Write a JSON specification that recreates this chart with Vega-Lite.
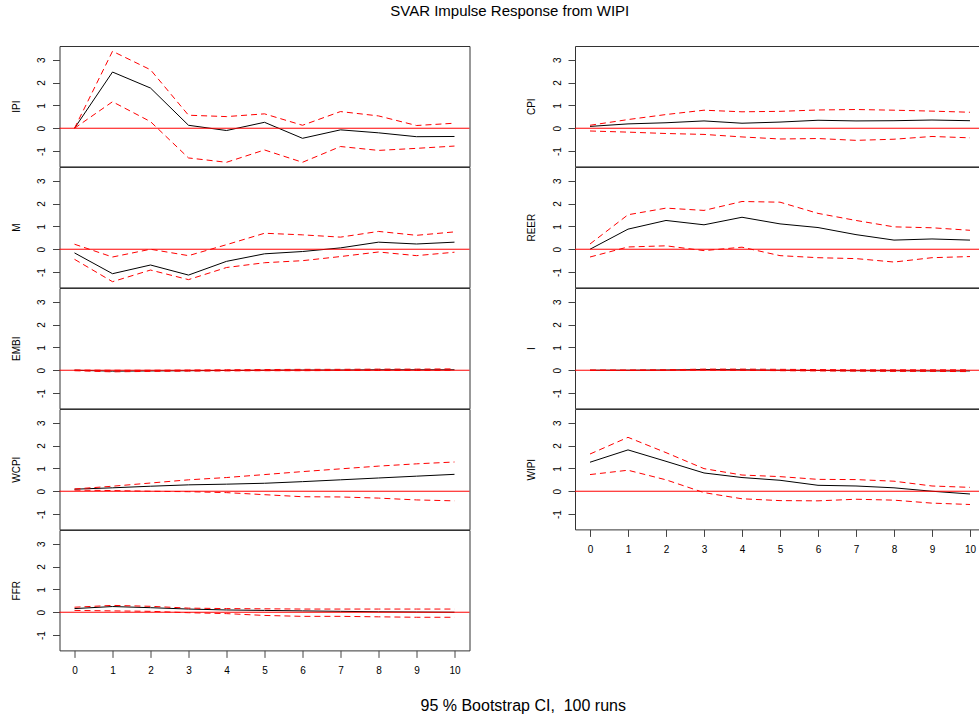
{
  "$schema": "https://vega.github.io/schema/vega-lite/v6.json",
  "padding": {"left": 9.5, "top": 3, "right": 0, "bottom": 4},
  "title": {"text": "95 % Bootstrap CI, \u00a0100 runs", "orient": "bottom", "anchor": "middle", "fontSize": 16, "fontWeight": "normal", "font": "Liberation Sans", "color": "#000", "offset": 22, "dx": 28},
  "config": {
    "font": "Liberation Sans",
    "view": {"stroke": "#333", "strokeWidth": 1},
    "axis": {"grid": false, "domain": false, "tickSize": 7, "tickColor": "#444", "labelFontSize": 10, "labelColor": "#000", "titleFontSize": 10, "titleFontWeight": "normal", "titleColor": "#000", "labelFont": "Liberation Sans", "titleFont": "Liberation Sans", "labelOverlap": false},
    "axisY": {"labelAngle": 270, "labelPadding": 6, "titlePadding": 15.5},
    "axisX": {"labelAngle": 0, "labelPadding": 8},
    "line": {"strokeWidth": 1}
  },
  "datasets": {
    "irf": [
      {"v":"IPI","h":0,"irf":0,"lo":0,"up":0},
      {"v":"IPI","h":1,"irf":2.46,"lo":1.16,"up":3.37},
      {"v":"IPI","h":2,"irf":1.76,"lo":0.29,"up":2.56},
      {"v":"IPI","h":3,"irf":0.13,"lo":-1.30,"up":0.57},
      {"v":"IPI","h":4,"irf":-0.10,"lo":-1.49,"up":0.51},
      {"v":"IPI","h":5,"irf":0.26,"lo":-0.95,"up":0.63},
      {"v":"IPI","h":6,"irf":-0.44,"lo":-1.49,"up":0.13},
      {"v":"IPI","h":7,"irf":-0.07,"lo":-0.80,"up":0.73},
      {"v":"IPI","h":8,"irf":-0.20,"lo":-0.97,"up":0.54},
      {"v":"IPI","h":9,"irf":-0.37,"lo":-0.88,"up":0.12},
      {"v":"IPI","h":10,"irf":-0.36,"lo":-0.78,"up":0.22},
      {"v":"M","h":0,"irf":-0.16,"lo":-0.44,"up":0.22},
      {"v":"M","h":1,"irf":-1.07,"lo":-1.42,"up":-0.34},
      {"v":"M","h":2,"irf":-0.69,"lo":-0.91,"up":0.00},
      {"v":"M","h":3,"irf":-1.13,"lo":-1.33,"up":-0.28},
      {"v":"M","h":4,"irf":-0.53,"lo":-0.80,"up":0.20},
      {"v":"M","h":5,"irf":-0.20,"lo":-0.59,"up":0.70},
      {"v":"M","h":6,"irf":-0.10,"lo":-0.50,"up":0.63},
      {"v":"M","h":7,"irf":0.06,"lo":-0.32,"up":0.53},
      {"v":"M","h":8,"irf":0.31,"lo":-0.12,"up":0.78},
      {"v":"M","h":9,"irf":0.23,"lo":-0.28,"up":0.61},
      {"v":"M","h":10,"irf":0.31,"lo":-0.13,"up":0.76},
      {"v":"EMBI","h":0,"irf":0.00,"lo":-0.02,"up":0.01},
      {"v":"EMBI","h":1,"irf":-0.04,"lo":-0.07,"up":0.00},
      {"v":"EMBI","h":2,"irf":-0.03,"lo":-0.05,"up":0.00},
      {"v":"EMBI","h":3,"irf":-0.02,"lo":-0.04,"up":0.01},
      {"v":"EMBI","h":4,"irf":-0.01,"lo":-0.03,"up":0.02},
      {"v":"EMBI","h":5,"irf":0.00,"lo":-0.02,"up":0.03},
      {"v":"EMBI","h":6,"irf":0.01,"lo":-0.02,"up":0.04},
      {"v":"EMBI","h":7,"irf":0.01,"lo":-0.01,"up":0.04},
      {"v":"EMBI","h":8,"irf":0.02,"lo":-0.01,"up":0.05},
      {"v":"EMBI","h":9,"irf":0.02,"lo":-0.01,"up":0.05},
      {"v":"EMBI","h":10,"irf":0.02,"lo":0.00,"up":0.06},
      {"v":"WCPI","h":0,"irf":0.09,"lo":0.05,"up":0.10},
      {"v":"WCPI","h":1,"irf":0.15,"lo":0.03,"up":0.22},
      {"v":"WCPI","h":2,"irf":0.22,"lo":0.00,"up":0.36},
      {"v":"WCPI","h":3,"irf":0.28,"lo":-0.02,"up":0.50},
      {"v":"WCPI","h":4,"irf":0.31,"lo":-0.06,"up":0.60},
      {"v":"WCPI","h":5,"irf":0.35,"lo":-0.15,"up":0.73},
      {"v":"WCPI","h":6,"irf":0.42,"lo":-0.24,"up":0.86},
      {"v":"WCPI","h":7,"irf":0.50,"lo":-0.25,"up":0.98},
      {"v":"WCPI","h":8,"irf":0.58,"lo":-0.30,"up":1.10},
      {"v":"WCPI","h":9,"irf":0.66,"lo":-0.38,"up":1.20},
      {"v":"WCPI","h":10,"irf":0.74,"lo":-0.42,"up":1.28},
      {"v":"FFR","h":0,"irf":0.16,"lo":0.08,"up":0.22},
      {"v":"FFR","h":1,"irf":0.25,"lo":0.06,"up":0.30},
      {"v":"FFR","h":2,"irf":0.20,"lo":0.04,"up":0.26},
      {"v":"FFR","h":3,"irf":0.14,"lo":-0.02,"up":0.18},
      {"v":"FFR","h":4,"irf":0.10,"lo":-0.06,"up":0.16},
      {"v":"FFR","h":5,"irf":0.08,"lo":-0.14,"up":0.15},
      {"v":"FFR","h":6,"irf":0.06,"lo":-0.18,"up":0.14},
      {"v":"FFR","h":7,"irf":0.04,"lo":-0.18,"up":0.14},
      {"v":"FFR","h":8,"irf":0.02,"lo":-0.20,"up":0.14},
      {"v":"FFR","h":9,"irf":0.01,"lo":-0.22,"up":0.14},
      {"v":"FFR","h":10,"irf":0.00,"lo":-0.22,"up":0.14},
      {"v":"CPI","h":0,"irf":0.08,"lo":-0.12,"up":0.13},
      {"v":"CPI","h":1,"irf":0.19,"lo":-0.17,"up":0.38},
      {"v":"CPI","h":2,"irf":0.24,"lo":-0.23,"up":0.60},
      {"v":"CPI","h":3,"irf":0.32,"lo":-0.27,"up":0.79},
      {"v":"CPI","h":4,"irf":0.22,"lo":-0.38,"up":0.72},
      {"v":"CPI","h":5,"irf":0.27,"lo":-0.47,"up":0.74},
      {"v":"CPI","h":6,"irf":0.35,"lo":-0.45,"up":0.80},
      {"v":"CPI","h":7,"irf":0.32,"lo":-0.53,"up":0.82},
      {"v":"CPI","h":8,"irf":0.33,"lo":-0.48,"up":0.79},
      {"v":"CPI","h":9,"irf":0.36,"lo":-0.36,"up":0.75},
      {"v":"CPI","h":10,"irf":0.33,"lo":-0.42,"up":0.70},
      {"v":"REER","h":0,"irf":0.00,"lo":-0.34,"up":0.23},
      {"v":"REER","h":1,"irf":0.88,"lo":0.10,"up":1.51},
      {"v":"REER","h":2,"irf":1.26,"lo":0.15,"up":1.80},
      {"v":"REER","h":3,"irf":1.07,"lo":-0.06,"up":1.70},
      {"v":"REER","h":4,"irf":1.40,"lo":0.09,"up":2.09},
      {"v":"REER","h":5,"irf":1.11,"lo":-0.28,"up":2.06},
      {"v":"REER","h":6,"irf":0.95,"lo":-0.37,"up":1.57},
      {"v":"REER","h":7,"irf":0.64,"lo":-0.41,"up":1.26},
      {"v":"REER","h":8,"irf":0.40,"lo":-0.56,"up":0.98},
      {"v":"REER","h":9,"irf":0.45,"lo":-0.37,"up":0.94},
      {"v":"REER","h":10,"irf":0.40,"lo":-0.32,"up":0.83},
      {"v":"I","h":0,"irf":0.00,"lo":-0.01,"up":0.01},
      {"v":"I","h":1,"irf":0.00,"lo":-0.01,"up":0.01},
      {"v":"I","h":2,"irf":0.01,"lo":0.00,"up":0.02},
      {"v":"I","h":3,"irf":0.03,"lo":0.01,"up":0.05},
      {"v":"I","h":4,"irf":0.02,"lo":0.00,"up":0.05},
      {"v":"I","h":5,"irf":0.00,"lo":-0.02,"up":0.04},
      {"v":"I","h":6,"irf":-0.01,"lo":-0.03,"up":0.03},
      {"v":"I","h":7,"irf":-0.02,"lo":-0.04,"up":0.02},
      {"v":"I","h":8,"irf":-0.02,"lo":-0.05,"up":0.02},
      {"v":"I","h":9,"irf":-0.03,"lo":-0.05,"up":0.02},
      {"v":"I","h":10,"irf":-0.03,"lo":-0.06,"up":0.02},
      {"v":"WIPI","h":0,"irf":1.27,"lo":0.73,"up":1.63},
      {"v":"WIPI","h":1,"irf":1.81,"lo":0.92,"up":2.36},
      {"v":"WIPI","h":2,"irf":1.31,"lo":0.50,"up":1.69},
      {"v":"WIPI","h":3,"irf":0.80,"lo":-0.06,"up":0.99},
      {"v":"WIPI","h":4,"irf":0.60,"lo":-0.33,"up":0.71},
      {"v":"WIPI","h":5,"irf":0.48,"lo":-0.41,"up":0.64},
      {"v":"WIPI","h":6,"irf":0.26,"lo":-0.42,"up":0.52},
      {"v":"WIPI","h":7,"irf":0.23,"lo":-0.35,"up":0.51},
      {"v":"WIPI","h":8,"irf":0.15,"lo":-0.39,"up":0.44},
      {"v":"WIPI","h":9,"irf":0.00,"lo":-0.52,"up":0.23},
      {"v":"WIPI","h":10,"irf":-0.12,"lo":-0.58,"up":0.17}
    ],
    "zero": [{"z": 0}]
  },
  "vconcat": [
    {
      "title": {"text": "SVAR Impulse Response from WIPI", "anchor": "middle", "fontSize": 15, "fontWeight": "normal", "font": "Liberation Sans", "color": "#000", "offset": 27, "dx": 14.5},
      "spacing": 54.5,
      "hconcat": [
        {
          "bounds": "flush",
          "spacing": 0,
          "vconcat": [
            {"width": 410, "height": 120.4, "layer": [
              {"data": {"name": "irf"}, "transform": [{"filter": "datum.v === 'IPI'"}], "mark": {"type": "line", "color": "#000"}, "encoding": {"x": {"field": "h", "type": "quantitative", "scale": {"domain": [-0.395, 10.395], "nice": false, "zero": false}, "axis": null}, "y": {"field": "irf", "type": "quantitative", "scale": {"domain": [-1.67, 3.6], "nice": false, "zero": false}, "axis": {"title": "IPI", "values": [-1, 0, 1, 2, 3], "tickCount": 10, "labelExpr": "'' + datum.value"}}}},
              {"data": {"name": "zero"}, "mark": {"type": "rule", "color": "#FF0000"}, "encoding": {"y": {"field": "z", "type": "quantitative"}}},
              {"data": {"name": "irf"}, "transform": [{"filter": "datum.v === 'IPI'"}], "mark": {"type": "line", "color": "#FF0000", "strokeDash": [6, 4]}, "encoding": {"x": {"field": "h", "type": "quantitative"}, "y": {"field": "up", "type": "quantitative"}}},
              {"data": {"name": "irf"}, "transform": [{"filter": "datum.v === 'IPI'"}], "mark": {"type": "line", "color": "#FF0000", "strokeDash": [6, 4]}, "encoding": {"x": {"field": "h", "type": "quantitative"}, "y": {"field": "lo", "type": "quantitative"}}}
            ]},
            {"width": 410, "height": 120.4, "layer": [
              {"data": {"name": "irf"}, "transform": [{"filter": "datum.v === 'M'"}], "mark": {"type": "line", "color": "#000"}, "encoding": {"x": {"field": "h", "type": "quantitative", "scale": {"domain": [-0.395, 10.395], "nice": false, "zero": false}, "axis": null}, "y": {"field": "irf", "type": "quantitative", "scale": {"domain": [-1.67, 3.6], "nice": false, "zero": false}, "axis": {"title": "M", "values": [-1, 0, 1, 2, 3], "tickCount": 10, "labelExpr": "'' + datum.value"}}}},
              {"data": {"name": "zero"}, "mark": {"type": "rule", "color": "#FF0000"}, "encoding": {"y": {"field": "z", "type": "quantitative"}}},
              {"data": {"name": "irf"}, "transform": [{"filter": "datum.v === 'M'"}], "mark": {"type": "line", "color": "#FF0000", "strokeDash": [6, 4]}, "encoding": {"x": {"field": "h", "type": "quantitative"}, "y": {"field": "up", "type": "quantitative"}}},
              {"data": {"name": "irf"}, "transform": [{"filter": "datum.v === 'M'"}], "mark": {"type": "line", "color": "#FF0000", "strokeDash": [6, 4]}, "encoding": {"x": {"field": "h", "type": "quantitative"}, "y": {"field": "lo", "type": "quantitative"}}}
            ]},
            {"width": 410, "height": 120.4, "layer": [
              {"data": {"name": "irf"}, "transform": [{"filter": "datum.v === 'EMBI'"}], "mark": {"type": "line", "color": "#000"}, "encoding": {"x": {"field": "h", "type": "quantitative", "scale": {"domain": [-0.395, 10.395], "nice": false, "zero": false}, "axis": null}, "y": {"field": "irf", "type": "quantitative", "scale": {"domain": [-1.67, 3.6], "nice": false, "zero": false}, "axis": {"title": "EMBI", "values": [-1, 0, 1, 2, 3], "tickCount": 10, "labelExpr": "'' + datum.value"}}}},
              {"data": {"name": "zero"}, "mark": {"type": "rule", "color": "#FF0000"}, "encoding": {"y": {"field": "z", "type": "quantitative"}}},
              {"data": {"name": "irf"}, "transform": [{"filter": "datum.v === 'EMBI'"}], "mark": {"type": "line", "color": "#FF0000", "strokeDash": [6, 4]}, "encoding": {"x": {"field": "h", "type": "quantitative"}, "y": {"field": "up", "type": "quantitative"}}},
              {"data": {"name": "irf"}, "transform": [{"filter": "datum.v === 'EMBI'"}], "mark": {"type": "line", "color": "#FF0000", "strokeDash": [6, 4]}, "encoding": {"x": {"field": "h", "type": "quantitative"}, "y": {"field": "lo", "type": "quantitative"}}}
            ]},
            {"width": 410, "height": 120.4, "layer": [
              {"data": {"name": "irf"}, "transform": [{"filter": "datum.v === 'WCPI'"}], "mark": {"type": "line", "color": "#000"}, "encoding": {"x": {"field": "h", "type": "quantitative", "scale": {"domain": [-0.395, 10.395], "nice": false, "zero": false}, "axis": null}, "y": {"field": "irf", "type": "quantitative", "scale": {"domain": [-1.67, 3.6], "nice": false, "zero": false}, "axis": {"title": "WCPI", "values": [-1, 0, 1, 2, 3], "tickCount": 10, "labelExpr": "'' + datum.value"}}}},
              {"data": {"name": "zero"}, "mark": {"type": "rule", "color": "#FF0000"}, "encoding": {"y": {"field": "z", "type": "quantitative"}}},
              {"data": {"name": "irf"}, "transform": [{"filter": "datum.v === 'WCPI'"}], "mark": {"type": "line", "color": "#FF0000", "strokeDash": [6, 4]}, "encoding": {"x": {"field": "h", "type": "quantitative"}, "y": {"field": "up", "type": "quantitative"}}},
              {"data": {"name": "irf"}, "transform": [{"filter": "datum.v === 'WCPI'"}], "mark": {"type": "line", "color": "#FF0000", "strokeDash": [6, 4]}, "encoding": {"x": {"field": "h", "type": "quantitative"}, "y": {"field": "lo", "type": "quantitative"}}}
            ]},
            {"width": 410, "height": 120.4, "layer": [
              {"data": {"name": "irf"}, "transform": [{"filter": "datum.v === 'FFR'"}], "mark": {"type": "line", "color": "#000"}, "encoding": {"x": {"field": "h", "type": "quantitative", "scale": {"domain": [-0.395, 10.395], "nice": false, "zero": false}, "axis": {"title": null, "values": [0, 1, 2, 3, 4, 5, 6, 7, 8, 9, 10], "tickCount": 20, "labelExpr": "'' + datum.value"}}, "y": {"field": "irf", "type": "quantitative", "scale": {"domain": [-1.67, 3.6], "nice": false, "zero": false}, "axis": {"title": "FFR", "values": [-1, 0, 1, 2, 3], "tickCount": 10, "labelExpr": "'' + datum.value"}}}},
              {"data": {"name": "zero"}, "mark": {"type": "rule", "color": "#FF0000"}, "encoding": {"y": {"field": "z", "type": "quantitative"}}},
              {"data": {"name": "irf"}, "transform": [{"filter": "datum.v === 'FFR'"}], "mark": {"type": "line", "color": "#FF0000", "strokeDash": [6, 4]}, "encoding": {"x": {"field": "h", "type": "quantitative"}, "y": {"field": "up", "type": "quantitative"}}},
              {"data": {"name": "irf"}, "transform": [{"filter": "datum.v === 'FFR'"}], "mark": {"type": "line", "color": "#FF0000", "strokeDash": [6, 4]}, "encoding": {"x": {"field": "h", "type": "quantitative"}, "y": {"field": "lo", "type": "quantitative"}}}
            ]}
          ]
        },
        {
          "bounds": "flush",
          "spacing": 0,
          "vconcat": [
            {"width": 404, "height": 120.4, "layer": [
              {"data": {"name": "irf"}, "transform": [{"filter": "datum.v === 'CPI'"}], "mark": {"type": "line", "color": "#000"}, "encoding": {"x": {"field": "h", "type": "quantitative", "scale": {"domain": [-0.395, 10.237], "nice": false, "zero": false}, "axis": null}, "y": {"field": "irf", "type": "quantitative", "scale": {"domain": [-1.67, 3.6], "nice": false, "zero": false}, "axis": {"title": "CPI", "values": [-1, 0, 1, 2, 3], "tickCount": 10, "labelExpr": "'' + datum.value"}}}},
              {"data": {"name": "zero"}, "mark": {"type": "rule", "color": "#FF0000"}, "encoding": {"y": {"field": "z", "type": "quantitative"}}},
              {"data": {"name": "irf"}, "transform": [{"filter": "datum.v === 'CPI'"}], "mark": {"type": "line", "color": "#FF0000", "strokeDash": [6, 4]}, "encoding": {"x": {"field": "h", "type": "quantitative"}, "y": {"field": "up", "type": "quantitative"}}},
              {"data": {"name": "irf"}, "transform": [{"filter": "datum.v === 'CPI'"}], "mark": {"type": "line", "color": "#FF0000", "strokeDash": [6, 4]}, "encoding": {"x": {"field": "h", "type": "quantitative"}, "y": {"field": "lo", "type": "quantitative"}}}
            ]},
            {"width": 404, "height": 120.4, "layer": [
              {"data": {"name": "irf"}, "transform": [{"filter": "datum.v === 'REER'"}], "mark": {"type": "line", "color": "#000"}, "encoding": {"x": {"field": "h", "type": "quantitative", "scale": {"domain": [-0.395, 10.237], "nice": false, "zero": false}, "axis": null}, "y": {"field": "irf", "type": "quantitative", "scale": {"domain": [-1.67, 3.6], "nice": false, "zero": false}, "axis": {"title": "REER", "values": [-1, 0, 1, 2, 3], "tickCount": 10, "labelExpr": "'' + datum.value"}}}},
              {"data": {"name": "zero"}, "mark": {"type": "rule", "color": "#FF0000"}, "encoding": {"y": {"field": "z", "type": "quantitative"}}},
              {"data": {"name": "irf"}, "transform": [{"filter": "datum.v === 'REER'"}], "mark": {"type": "line", "color": "#FF0000", "strokeDash": [6, 4]}, "encoding": {"x": {"field": "h", "type": "quantitative"}, "y": {"field": "up", "type": "quantitative"}}},
              {"data": {"name": "irf"}, "transform": [{"filter": "datum.v === 'REER'"}], "mark": {"type": "line", "color": "#FF0000", "strokeDash": [6, 4]}, "encoding": {"x": {"field": "h", "type": "quantitative"}, "y": {"field": "lo", "type": "quantitative"}}}
            ]},
            {"width": 404, "height": 120.4, "layer": [
              {"data": {"name": "irf"}, "transform": [{"filter": "datum.v === 'I'"}], "mark": {"type": "line", "color": "#000"}, "encoding": {"x": {"field": "h", "type": "quantitative", "scale": {"domain": [-0.395, 10.237], "nice": false, "zero": false}, "axis": null}, "y": {"field": "irf", "type": "quantitative", "scale": {"domain": [-1.67, 3.6], "nice": false, "zero": false}, "axis": {"title": "I", "values": [-1, 0, 1, 2, 3], "tickCount": 10, "labelExpr": "'' + datum.value"}}}},
              {"data": {"name": "zero"}, "mark": {"type": "rule", "color": "#FF0000"}, "encoding": {"y": {"field": "z", "type": "quantitative"}}},
              {"data": {"name": "irf"}, "transform": [{"filter": "datum.v === 'I'"}], "mark": {"type": "line", "color": "#FF0000", "strokeDash": [6, 4]}, "encoding": {"x": {"field": "h", "type": "quantitative"}, "y": {"field": "up", "type": "quantitative"}}},
              {"data": {"name": "irf"}, "transform": [{"filter": "datum.v === 'I'"}], "mark": {"type": "line", "color": "#FF0000", "strokeDash": [6, 4]}, "encoding": {"x": {"field": "h", "type": "quantitative"}, "y": {"field": "lo", "type": "quantitative"}}}
            ]},
            {"width": 404, "height": 120.4, "layer": [
              {"data": {"name": "irf"}, "transform": [{"filter": "datum.v === 'WIPI'"}], "mark": {"type": "line", "color": "#000"}, "encoding": {"x": {"field": "h", "type": "quantitative", "scale": {"domain": [-0.395, 10.237], "nice": false, "zero": false}, "axis": {"title": null, "values": [0, 1, 2, 3, 4, 5, 6, 7, 8, 9, 10], "tickCount": 20, "labelExpr": "'' + datum.value"}}, "y": {"field": "irf", "type": "quantitative", "scale": {"domain": [-1.67, 3.6], "nice": false, "zero": false}, "axis": {"title": "WIPI", "values": [-1, 0, 1, 2, 3], "tickCount": 10, "labelExpr": "'' + datum.value"}}}},
              {"data": {"name": "zero"}, "mark": {"type": "rule", "color": "#FF0000"}, "encoding": {"y": {"field": "z", "type": "quantitative"}}},
              {"data": {"name": "irf"}, "transform": [{"filter": "datum.v === 'WIPI'"}], "mark": {"type": "line", "color": "#FF0000", "strokeDash": [6, 4]}, "encoding": {"x": {"field": "h", "type": "quantitative"}, "y": {"field": "up", "type": "quantitative"}}},
              {"data": {"name": "irf"}, "transform": [{"filter": "datum.v === 'WIPI'"}], "mark": {"type": "line", "color": "#FF0000", "strokeDash": [6, 4]}, "encoding": {"x": {"field": "h", "type": "quantitative"}, "y": {"field": "lo", "type": "quantitative"}}}
            ]}
          ]
        }
      ]
    }
  ]
}
